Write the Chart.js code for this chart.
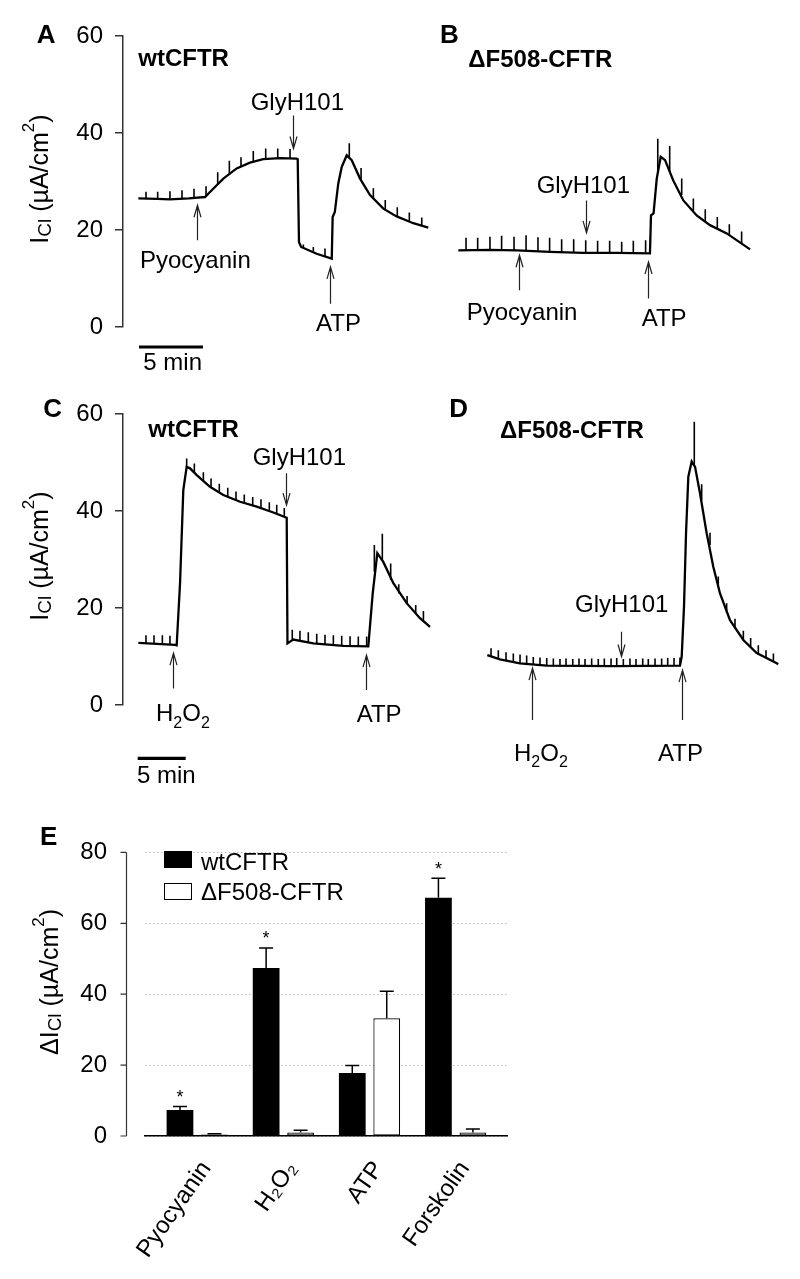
<!DOCTYPE html>
<html><head><meta charset="utf-8">
<script src="https://cdn.jsdelivr.net/npm/chart.js@4.4.1/dist/chart.umd.min.js"></script>
<style>
body{margin:0;background:#fff;}
#fig{position:relative;width:800px;height:1279px;overflow:hidden;font-family:"Liberation Sans",Arial,Helvetica,sans-serif;color:#000;background:#fff;}
canvas{position:absolute;}
.t{position:absolute;white-space:nowrap;}
.sub{font-size:16px;position:relative;top:6.5px;}
.vt{position:absolute;white-space:nowrap;transform:translate(-50%,-50%) rotate(-90deg);font-size:25px;line-height:25px;}
.box{position:absolute;box-sizing:border-box;}
</style></head><body><div id="fig">
<canvas id="cA" width="440" height="380" style="left:0;top:0"></canvas>
<canvas id="cB" width="360" height="380" style="left:440px;top:0"></canvas>
<canvas id="cC" width="440" height="400" style="left:0;top:380px"></canvas>
<canvas id="cD" width="360" height="400" style="left:440px;top:380px"></canvas>
<canvas id="cE" width="520" height="479" style="left:0;top:800px"></canvas>
</div>
<script>
// ---------- DATA (time in min, current in µA/cm²) ----------
const traceA = [[0.05,26.5],[1.5,26.4],[2.52,26.3],[4.0,26.5],[5.26,26.8],[5.9,28.5],[6.69,30.6],[7.73,32.7],[8.77,33.9],[9.81,34.6],[11.12,34.8],[12.42,34.7],[12.5,34.6],[12.6,17.5],[12.77,16.5],[13.98,15.1],[15.16,14.1],[15.23,22.7],[15.4,23.7],[15.67,29.6],[15.94,33.0],[16.33,35.4],[16.72,34.4],[17.37,30.6],[18.15,27.2],[19.19,24.4],[20.23,22.8],[21.53,21.4],[22.7,20.5]];
const spikesA = [[0.65,26.5,27.9],[1.56,26.4,27.9],[2.52,26.3,28.0],[3.46,26.4,28.2],[4.4,26.6,28.5],[5.34,26.9,29.0],[6.25,29.4,31.9],[7.16,31.5,34.3],[8.07,33.1,35.0],[9.03,34.1,36.3],[10.0,34.6,36.8],[10.94,34.8,36.8],[11.9,34.8,36.7],[12.94,16.2,17.0],[13.72,15.5,16.5],[14.63,14.6,16.2],[16.53,34.9,37.9],[17.45,30.2,32.8],[18.41,26.5,28.6],[19.34,24.2,26.2],[20.28,22.7,24.7],[21.22,21.7,23.6],[22.19,20.9,22.6]];
const traceB = [[0.05,15.8],[2.5,15.9],[4.61,15.8],[7.21,15.5],[9.81,15.3],[12.42,15.3],[15.02,15.2],[15.1,23.0],[15.3,23.4],[15.55,30.6],[15.86,35.1],[16.2,34.4],[16.84,30.2],[17.63,26.1],[18.67,23.0],[19.71,21.0],[21.02,19.3],[22.84,16.0]];
const spikesB = [[0.65,15.8,18.4],[1.56,15.8,18.4],[2.52,15.9,18.6],[3.43,15.9,18.8],[4.4,15.8,18.6],[5.34,15.7,18.9],[6.27,15.6,18.5],[7.18,15.5,18.4],[8.12,15.4,18.1],[9.06,15.3,18.1],[10.0,15.3,17.9],[10.93,15.3,17.8],[11.87,15.3,17.8],[12.81,15.3,17.6],[13.72,15.3,17.8],[14.68,15.2,17.9],[15.63,31.8,38.8],[16.56,32.0,37.3],[17.5,27.2,30.6],[18.41,23.9,26.5],[19.34,21.6,24.3],[20.28,20.3,22.7],[21.22,19.0,21.2],[22.18,17.3,19.7]];
const traceC = [[0.07,12.8],[2.0,12.6],[3.89,12.4],[4.06,12.3],[4.41,25.1],[4.75,44.3],[5.1,49.1],[5.45,48.8],[6.15,47.4],[7.53,45.0],[8.92,43.3],[10.66,41.9],[12.4,40.9],[14.13,39.7],[15.52,38.6],[15.6,12.7],[16.2,13.5],[18.29,12.7],[21.42,12.2],[24.02,12.1],[24.48,23.0],[24.96,31.3],[25.58,29.5],[26.63,25.1],[28.02,21.0],[29.4,17.9],[30.45,16.1]];
const spikesC = [[0.86,12.7,14.4],[1.7,12.6,14.4],[2.57,12.5,14.4],[3.36,12.4,14.3],[5.1,49.1,50.8],[5.9,47.9,49.8],[6.84,46.2,48.0],[7.64,44.9,46.7],[8.5,43.8,45.6],[9.38,43.0,44.8],[10.24,42.2,44.0],[11.1,41.6,43.4],[11.98,41.1,42.9],[12.84,40.6,42.4],[13.71,40.0,41.8],[14.48,39.5,41.3],[15.27,38.8,40.6],[16.1,13.5,15.5],[16.9,13.3,15.3],[17.77,13.0,15.0],[18.65,12.7,14.7],[19.51,12.5,14.5],[20.38,12.4,14.4],[21.25,12.3,14.3],[22.12,12.2,14.2],[22.98,12.1,14.1],[23.85,12.1,14.1],[24.65,27.5,33.0],[25.48,29.8,35.3],[26.35,25.8,29.2],[27.19,23.0,24.9],[28.06,20.9,22.5],[28.96,18.9,20.6],[29.76,17.3,19.4]];
const traceD = [[0,10.3],[1.32,9.4],[3.4,8.6],[6.19,8.1],[13.13,8.0],[20.07,8.1],[20.25,10.0],[20.49,20.3],[20.7,35.4],[20.94,47.1],[21.29,50.2],[21.64,49.1],[22.16,43.6],[22.85,35.4],[23.54,28.5],[24.24,23.0],[25.28,17.5],[26.67,13.4],[28.06,10.7],[30.15,8.6],[30.3,8.4]];
const spikesD = [[0.39,10.1,11.7],[1.15,9.7,11.3],[1.95,9.3,10.9],[2.71,9.0,10.6],[3.41,8.7,10.4],[4.10,8.5,10.2],[4.79,8.3,9.9],[5.49,8.2,9.8],[6.19,8.1,9.7],[6.88,8.0,9.6],[7.57,8.0,9.5],[8.2,8.0,9.6],[8.9,8.0,9.5],[9.55,8.0,9.6],[10.18,8.0,9.5],[10.87,8.0,9.6],[11.56,8.0,9.5],[12.19,8.0,9.6],[12.89,8.0,9.6],[13.48,8.0,9.7],[14.17,8.0,9.5],[14.86,8.0,9.6],[15.49,8.0,9.5],[16.19,8.0,9.6],[16.77,8.0,9.5],[17.47,8.0,9.6],[18.16,8.0,9.6],[18.79,8.1,9.7],[19.45,8.1,9.7],[20.07,8.1,9.8],[21.56,49.4,58.4],[22.33,42.2,45.5],[23.2,33.0,35.5],[24.06,24.3,26.5],[24.93,19.0,21.0],[25.8,15.8,17.8],[26.67,13.4,15.3],[27.43,12.0,13.8],[28.23,10.6,12.3],[29.03,9.7,11.3],[29.8,9.0,10.6]];

// arrows: [time, tail value, head value]
const arrowsA = [[4.61,17.9,25.1],[12.16,43.6,36.8],[15.02,4.8,12.4]];
const arrowsB = [[4.79,7.6,14.8],[10.02,26.1,19.4],[14.89,5.9,13.4]];
const arrowsC = [[3.65,3.4,10.7],[15.42,47.8,41.2],[23.78,3.1,10.3]];
const arrowsD = [[4.63,-3.1,7.6],[13.9,15.1,10.0],[20.25,-3.1,7.2]];
// 5-min scale bars: [start, end, level]
const scaleBarA = [0.1, 5.1, -4.12];
const scaleBarC = [0.0, 5.0, -11.0];

// panel E
const categories = ['Pyocyanin', 'H\u2082O\u2082', 'ATP', 'Forskolin'];
const wtMean = [7.3, 47.4, 17.8, 67.2];
const wtErr  = [1.0, 5.6, 2.1, 5.5];
const wtSig  = [true, true, false, true];
const dfMean = [0.4, 1.0, 33.2, 1.0];
const dfErr  = [0.2, 0.6, 7.6, 1.0];

// ---------- CHARTS ----------
Chart.defaults.font.family = '"Liberation Sans", Arial, Helvetica, sans-serif';
Chart.defaults.font.size = 24;
Chart.defaults.color = '#000';

function annotPlugin(arrows, bar) {
  return {
    id: 'annot',
    afterDraw(chart) {
      const ctx = chart.ctx, x = chart.scales.x, y = chart.scales.y;
      ctx.save();
      ctx.strokeStyle = '#222'; ctx.lineWidth = 1.2;
      arrows.forEach(a => {
        const px = Math.round(x.getPixelForValue(a[0])) + 0.5;
        const y0 = y.getPixelForValue(a[1]), y1 = y.getPixelForValue(a[2]);
        const dir = Math.sign(y1 - y0);
        ctx.beginPath();
        ctx.moveTo(px, y0); ctx.lineTo(px, y1);
        ctx.moveTo(px - 3.5, y1 - dir * 12); ctx.lineTo(px, y1); ctx.lineTo(px + 3.5, y1 - dir * 12);
        ctx.stroke();
      });
      if (bar) {
        ctx.strokeStyle = '#000'; ctx.lineWidth = 3.2;
        const py = y.getPixelForValue(bar[2]);
        ctx.beginPath(); ctx.moveTo(x.getPixelForValue(bar[0]), py); ctx.lineTo(x.getPixelForValue(bar[1]), py); ctx.stroke();
      }
      ctx.restore();
    }
  };
}

function traceChart(id, trace, spikes, xmin, xmax, showY, padding, arrows, bar) {
  const spikeData = [];
  spikes.forEach(s => { spikeData.push({x: s[0], y: s[1]}, {x: s[0], y: s[2]}, {x: s[0], y: null}); });
  const yOpts = { type: 'linear', display: showY, min: 0, max: 60,
             ticks: { stepSize: 20, padding: 12, color: '#000', font: { size: 24 } },
             grid: { drawOnChartArea: false, drawTicks: true, tickLength: 8, color: '#333', lineWidth: 1.5 },
             border: { display: true, color: '#333', width: 1.5 } };
  if (showY) yOpts.afterFit = s => { s.width = 123; };
  return new Chart(document.getElementById(id), {
    type: 'scatter',
    data: { datasets: [
      { data: spikeData, showLine: true, spanGaps: false, borderColor: '#000', borderWidth: 1.6, pointRadius: 0, tension: 0 },
      { data: trace.map(p => ({x: p[0], y: p[1]})), showLine: true, borderColor: '#000', borderWidth: 2.3, pointRadius: 0, tension: 0 }
    ]},
    options: {
      responsive: false, animation: false, events: [],
      layout: { padding },
      plugins: { legend: { display: false }, tooltip: { enabled: false } },
      scales: {
        x: { type: 'linear', display: false, min: xmin, max: xmax },
        y: yOpts
      }
    },
    plugins: [annotPlugin(arrows, bar)]
  });
}

traceChart('cA', traceA, spikesA, -1.148, 23.46, true, {top: 36, bottom: 53, left: 0, right: 2}, arrowsA, scaleBarA);
traceChart('cB', traceB, spikesB, -1.383, 25.96, false, {top: 36, bottom: 53, left: 0, right: 10}, arrowsB, null);
traceChart('cC', traceC, spikesC, -1.531, 31.28, true, {top: 34, bottom: 75, left: 0, right: 2}, arrowsC, scaleBarC);
traceChart('cD', traceD, spikesD, -4.927, 31.53, false, {top: 34, bottom: 75, left: 0, right: 10}, arrowsD, null);

const errPlugin = {
  id: 'err',
  afterDraw(chart) {
    const ctx = chart.ctx, y = chart.scales.y, area = chart.chartArea;
    ctx.save();
    ctx.strokeStyle = '#000'; ctx.fillStyle = '#000'; ctx.lineWidth = 1.5;
    ctx.font = '18px "Liberation Sans", Arial, sans-serif';
    ctx.textAlign = 'center'; ctx.textBaseline = 'alphabetic';
    [[wtMean, wtErr, wtSig], [dfMean, dfErr, null]].forEach((set, di) => {
      const meta = chart.getDatasetMeta(di);
      set[0].forEach((m, i) => {
        const b = meta.data[i];
        const top = y.getPixelForValue(m), et = y.getPixelForValue(m + set[1][i]);
        ctx.beginPath();
        ctx.moveTo(b.x, top); ctx.lineTo(b.x, et);
        ctx.moveTo(b.x - 7, et); ctx.lineTo(b.x + 7, et);
        ctx.stroke();
        if (set[2] && set[2][i]) ctx.fillText('*', b.x, et - 3.7);
      });
    });
    const ax = area.left - 18.5;
    ctx.strokeStyle = '#333'; ctx.lineWidth = 1.2;
    ctx.beginPath();
    ctx.moveTo(ax, y.getPixelForValue(y.max)); ctx.lineTo(ax, y.getPixelForValue(y.min));
    y.ticks.forEach(t => { const py = y.getPixelForValue(t.value); ctx.moveTo(ax - 6, py); ctx.lineTo(ax, py); });
    ctx.stroke();
    ctx.restore();
  }
};

new Chart(document.getElementById('cE'), {
  type: 'bar',
  data: { datasets: [
    { label: 'wtCFTR', data: wtMean.map((v, i) => ({x: i, y: v})), backgroundColor: '#000', borderColor: '#000', borderWidth: 0 },
    { label: '\u0394F508-CFTR', data: dfMean.map((v, i) => ({x: i, y: v})), backgroundColor: '#fff', borderColor: '#000', borderWidth: 1.2, borderSkipped: false }
  ]},
  options: {
    responsive: false, animation: false, events: [],
    layout: { padding: { top: 45, right: 13, left: 0, bottom: 0 } },
    datasets: { bar: { categoryPercentage: 0.8, barPercentage: 0.776 } },
    plugins: { legend: { display: false }, tooltip: { enabled: false } },
    scales: {
      x: { type: 'linear', min: -0.606, max: 3.596, offset: false,
           afterBuildTicks: s => { s.ticks = categories.map((c, i) => ({value: i})); },
           afterFit: s => { s.height = 143; },
           ticks: { callback: v => categories[v], minRotation: 55, maxRotation: 55, autoSkip: false, padding: 20, labelOffset: 9, font: { size: 24 } },
           grid: { display: false, drawTicks: false },
           border: { display: true, color: '#000', width: 1.5 } },
      y: { min: 0, max: 80,
           afterFit: s => { s.width = 145; },
           ticks: { stepSize: 20, padding: 38, font: { size: 24 } },
           grid: { color: '#b8b8b8', lineWidth: 1, drawTicks: false },
           border: { display: false, dash: [1.5, 2.5] } }
    }
  },
  plugins: [errPlugin]
});

// ---------- TEXT OVERLAYS ----------
const fig = document.getElementById('fig');
function txt(html, x, baseline, size, bold) {
  const d = document.createElement('div');
  d.className = 't';
  d.innerHTML = html;
  d.style.fontSize = size + 'px';
  d.style.lineHeight = size + 'px';
  d.style.left = x + 'px';
  d.style.top = (baseline - 0.8465 * size) + 'px';
  if (bold) d.style.fontWeight = 'bold';
  fig.appendChild(d);
}
const H2O2 = 'H<span class="sub">2</span>O<span class="sub">2</span>';
[
  ['A', 36.7, 43.3, 26, true], ['B', 440, 43.3, 26, true], ['C', 43.3, 416.7, 26, true],
  ['D', 449.3, 416.7, 26, true], ['E', 40, 845, 26, true],
  ['wtCFTR', 138.3, 66, 24, true], ['\u0394F508-CFTR', 468.3, 67, 24, true],
  ['wtCFTR', 148.3, 437.3, 24, true], ['\u0394F508-CFTR', 500, 438.3, 24, true],
  ['Pyocyanin', 140, 268.5, 24], ['GlyH101', 250.7, 110, 24], ['ATP', 316, 331.7, 24], ['5 min', 143.3, 370, 24],
  ['GlyH101', 536.7, 193.3, 24], ['Pyocyanin', 466.7, 320, 24], ['ATP', 641.7, 326.7, 24],
  ['GlyH101', 252.7, 465, 24], [H2O2, 156, 721.7, 24], ['ATP', 356.7, 722.7, 24], ['5 min', 137, 783, 24],
  ['GlyH101', 575, 612.3, 24], [H2O2, 514, 761, 24], ['ATP', 658, 761, 24],
  ['wtCFTR', 201, 870.7, 24], ['\u0394F508-CFTR', 201, 900.7, 24]
].forEach(a => txt(a[0], a[1], a[2], a[3], a[4]));

function vtitle(html, cx, cy) {
  const d = document.createElement('div');
  d.className = 'vt';
  d.innerHTML = html;
  d.style.left = cx + 'px';
  d.style.top = cy + 'px';
  fig.appendChild(d);
}
const unit = '<span style="font-size:19px;position:relative;top:3px">Cl</span> (\u00b5A/cm<span style="font-size:17px;position:relative;top:-14px">2</span>)';
vtitle('I' + unit, 41.3, 179);
vtitle('I' + unit, 41.3, 556);
vtitle('\u0394I' + unit, 51.3, 981.7);

function box(x, y, w, h, bg, border) {
  const d = document.createElement('div');
  d.className = 'box';
  d.style.left = x + 'px'; d.style.top = y + 'px';
  d.style.width = w + 'px'; d.style.height = h + 'px';
  d.style.background = bg;
  if (border) d.style.border = '1px solid #000';
  fig.appendChild(d);
}
box(164.3, 851, 27.4, 17.3, '#000', false);
box(164.3, 883.3, 27.4, 16.7, '#fff', true);
</script>
</body></html>
